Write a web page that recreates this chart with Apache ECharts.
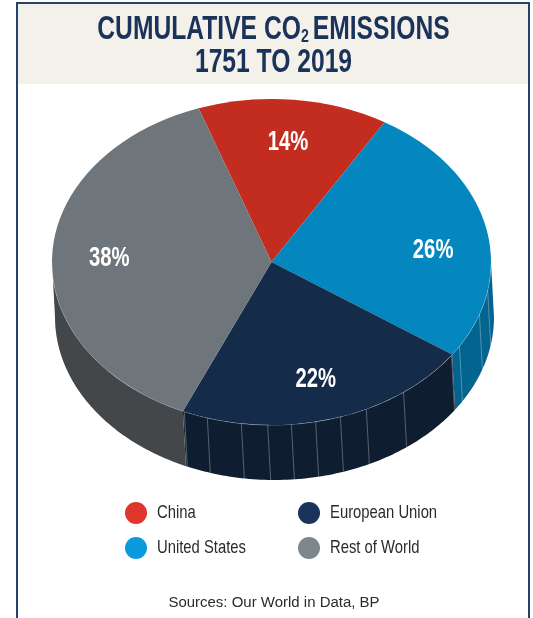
<!DOCTYPE html>
<html>
<head>
<meta charset="utf-8">
<script src="https://cdn.jsdelivr.net/npm/echarts@6/dist/echarts.min.js"></script>
<style>
  html, body { margin: 0; padding: 0; background: #fff; }
  #chart { width: 533px; height: 618px; }
</style>
</head>
<body>
<div id="chart"></div>
<script>
// slices clockwise, starting from the left edge of the China slice
const regions = ['China', 'United States', 'European Union', 'Rest of World']
const shares = [14, 26, 22, 38]
const titleLines = ['CUMULATIVE CO', '2 ', 'EMISSIONS', '1751 TO 2019']
const sourceNote = 'Sources: Our World in Data, BP'

const topColors = ['#c32d20', '#0487bf', '#152b4a', '#6e767c']
const wallColors = ['#8f2117', '#02648f', '#0e1d30', '#43474a']
const legendColors = ['#e0352b', '#0a9bdc', '#1a3358', '#7e878d']

// thin seams on the side wall, in degrees clockwise from the top
const seams = [100, 108.7, 121.1, 124.9, 143, 154.4, 161.7, 168.4, 174.8, 181, 187.9, 197, 203.4]
// the 26% label does not sit exactly on the slice's middle
const labelNudge = [0, 6.5, 0, 0]

const cx = 271.5
const cy = 262
const rx = 219.5
const ry = 163
const wallX = 3
const wallY = 55
const startDeg = -19.4
const navy = '#19335a'
// no condensed face is installed, so the text is squeezed horizontally
const fontFamily = '"Liberation Sans", sans-serif'

const total = shares.reduce((a, b) => a + b, 0)
const startOf = i => startDeg + shares.slice(0, i).reduce((a, b) => a + b, 0) / total * 360
const rad = d => d * Math.PI / 180
const rimPoint = (deg, dx, dy) => [
  cx + dx + rx * Math.sin(rad(deg)),
  cy + dy - ry * Math.cos(rad(deg))
]

function wallPoints(from, to) {
  const outer = []
  const inner = []
  for (let d = from; d <= to; d += 1) {
    outer.push(rimPoint(d, 0, 0))
    inner.unshift(rimPoint(d, wallX, wallY))
  }
  outer.push(rimPoint(to, 0, 0))
  inner.unshift(rimPoint(to, wallX, wallY))
  return outer.concat(inner)
}

function renderSlice(i) {
  return function (params, api) {
    const value = api.value(0)
    const from = startOf(i)
    const to = from + value / total * 360
    const children = []
    // only the front half of the rim shows a wall
    const wallFrom = Math.max(from, 90)
    const wallTo = Math.min(to, 270)
    if (wallTo > wallFrom) {
      children.push({
        type: 'polygon',
        shape: { points: wallPoints(wallFrom, wallTo) },
        style: { fill: wallColors[i] }
      })
      seams.filter(d => d > wallFrom && d < wallTo).forEach(d => {
        const a = rimPoint(d, 0, 0)
        const b = rimPoint(d, wallX, wallY)
        children.push({
          type: 'line',
          shape: { x1: a[0], y1: a[1], x2: b[0], y2: b[1] },
          style: { stroke: 'rgba(255,255,255,0.3)', lineWidth: 1 }
        })
      })
      const rim = []
      for (let d = wallFrom; d <= wallTo; d += 1) rim.push(rimPoint(d, 0, 0))
      children.push({
        type: 'polyline',
        shape: { points: rim },
        style: { stroke: 'rgba(255,255,255,0.35)', lineWidth: 1, fill: null }
      })
    }
    // top face: a sector squashed into the ellipse
    children.push({
      type: 'sector',
      x: cx,
      y: cy,
      scaleY: ry / rx,
      shape: {
        cx: 0,
        cy: 0,
        r: rx,
        r0: 0,
        startAngle: rad(from - 90),
        endAngle: rad(to - 90),
        clockwise: true
      },
      style: { fill: topColors[i] }
    })
    const mid = (from + to) / 2 + labelNudge[i]
    children.push({
      type: 'text',
      x: cx + 0.74 * rx * Math.sin(rad(mid)),
      y: cy + 1 - 0.74 * ry * Math.cos(rad(mid)),
      scaleX: 0.75,
      style: {
        text: value + '%',
        fill: '#fff',
        font: 'bold 27px ' + fontFamily,
        align: 'center',
        verticalAlign: 'middle'
      }
    })
    return { type: 'group', children: children }
  }
}

// legend runs top to bottom in two columns: China, US / EU, Rest
function legendGraphics() {
  const out = []
  regions.forEach((name, i) => {
    const x = i < 2 ? 136 : 309
    const y = i % 2 === 0 ? 513 : 548
    out.push({
      type: 'circle',
      shape: { cx: x, cy: y, r: 11 },
      style: { fill: legendColors[i] }
    })
    out.push({
      type: 'text',
      x: x + 21,
      y: y,
      scaleX: 0.78,
      style: {
        text: name,
        fill: '#2b2b2b',
        font: '19px ' + fontFamily,
        align: 'left',
        verticalAlign: 'middle'
      }
    })
  })
  return out
}

var option = {
  animation: false,
  backgroundColor: '#fff',
  graphic: [
    {
      type: 'rect',
      z: -10,
      shape: { x: 17, y: 3, width: 512, height: 81 },
      style: { fill: '#f3f1ea' }
    },
    {
      type: 'polyline',
      z: -9,
      shape: { points: [[17, 640], [17, 3], [529, 3], [529, 640]] },
      style: { stroke: '#24436a', lineWidth: 2, fill: null }
    },
    {
      type: 'text',
      x: 273.5,
      y: 46,
      scaleX: 0.747,
      style: {
        text: '{a|' + titleLines[0] + '}{s|' + titleLines[1] + '}{a|' + titleLines[2] + '}\n{a|' + titleLines[3] + '}',
        align: 'center',
        verticalAlign: 'middle',
        rich: {
          a: {
            fill: navy,
            font: 'bold 33px ' + fontFamily,
            lineHeight: 33
          },
          s: {
            fill: navy,
            font: 'bold 19px ' + fontFamily,
            lineHeight: 25,
            verticalAlign: 'bottom'
          }
        }
      }
    },
    {
      type: 'text',
      x: 274,
      y: 603,
      scaleX: 1.07,
      style: {
        text: sourceNote,
        fill: '#2b2b2b',
        font: '14px ' + fontFamily,
        align: 'center',
        verticalAlign: 'middle'
      }
    }
  ].concat(legendGraphics()),
  series: regions.map((name, i) => ({
    name: name,
    type: 'custom',
    coordinateSystem: 'none',
    renderItem: renderSlice(i),
    data: [[shares[i]]],
    silent: true
  }))
}

const myChart = echarts.init(document.getElementById('chart'))
myChart.setOption(option)
</script>
</body>
</html>
